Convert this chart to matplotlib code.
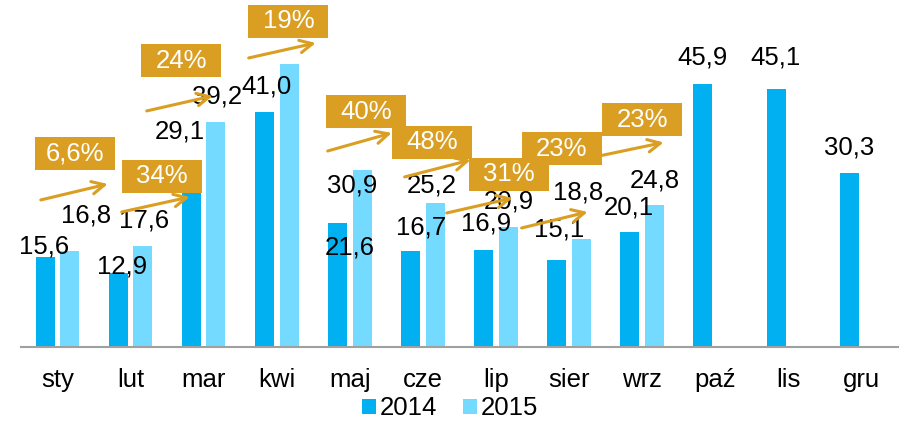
import matplotlib
matplotlib.use("Agg")
import matplotlib.pyplot as plt
from matplotlib.patches import Rectangle
import numpy as np

plt.rcParams['font.family'] = ['Liberation Sans', 'DejaVu Sans']

months = ["sty", "lut", "mar", "kwi", "maj", "cze", "lip", "sier", "wrz", "paź", "lis", "gru"]
v2014 = [15.6, 12.9, 29.1, 41.0, 21.6, 16.7, 16.9, 15.1, 20.1, 45.9, 45.1, 30.3]
v2015 = [16.8, 17.6, 39.2, 49.4, 30.9, 25.2, 20.9, 18.8, 24.8, np.nan, np.nan, np.nan]
show_2015_label = [True, True, True, False, True, True, True, True, True, False, False, False]
growth = ["6,6%", "34%", "24%", "19%", "40%", "48%", "31%", "23%", "23%"]

# layout (annotation positions, data coords)
lab14_pos = [(-0.19, 17.6), (0.88, 14.1), (1.67, 37.7), (2.86, 45.5), (4.0, 17.4), (4.97, 20.9),
             (5.86, 21.6), (6.87, 20.4), (7.82, 24.4), (8.83, 50.5), (9.83, 50.5), (10.83, 34.9)]
lab15_pos = [(0.39, 23.0), (1.18, 22.1), (2.18, 43.7), None, (4.03, 28.1), (5.12, 28.2),
             (6.17, 25.3), (7.13, 26.9), (8.17, 29.1)]
box_pos = [(0.236, 33.8), (1.43, 29.8), (1.69, 50.0), (3.16, 56.9), (4.22, 41.1),
           (5.13, 35.7), (6.18, 30.1), (6.90, 34.6), (8.0, 39.7)]
arrow_pos = [((-0.229, 25.65), (0.688, 28.44)), ((0.879, 23.55), (1.809, 26.17)),
             ((1.221, 41.21), (2.124, 43.83)), ((2.616, 50.47), (3.533, 53.09)),
             ((3.697, 34.21), (4.573, 37.36)), ((4.750, 29.67), (5.653, 32.64)),
             ((5.325, 23.37), (6.228, 25.99)), ((6.351, 20.75), (7.254, 23.55)),
             ((7.446, 33.43), (8.294, 35.70))]

c14 = "#00B0F0"
c15 = "#75DAFF"
gold = "#DA9E22"
fs = 18.5

fig = plt.figure(figsize=(9, 4.21), dpi=100)
ax = fig.add_axes([0.0233, 0.1765, 0.9744, 0.8235])

x = np.arange(len(months))
w = 0.26
off = 0.168
ax.bar(x - off, v2014, width=w, color=c14, label="2014", zorder=2)
ax.bar(x + off, v2015, width=w, color=c15, label="2015", zorder=2)

ax.set_xlim(-0.5, 11.5)
ax.set_ylim(0, 60.6)
ax.set_yticks([])
ax.set_xticks(x)
ax.set_xticklabels(months, fontsize=fs)
ax.tick_params(axis='x', length=0, pad=15)
for s in ["top", "right", "left"]:
    ax.spines[s].set_visible(False)
ax.spines["bottom"].set_color("#A0A0A0")
ax.spines["bottom"].set_linewidth(1.5)

fmt = lambda v: f"{v:.1f}".replace(".", ",")
for v, p in zip(v2014, lab14_pos):
    ax.text(p[0], p[1], fmt(v), ha="center", va="center", fontsize=fs, color="black", zorder=3)
for v, p, s in zip(v2015, lab15_pos, show_2015_label):
    if s and p is not None:
        ax.text(p[0], p[1], fmt(v), ha="center", va="center", fontsize=fs, color="black", zorder=3)

bw, bh = 1.094, 5.75
for g, p in zip(growth, box_pos):
    ax.add_patch(Rectangle((p[0] - bw / 2, p[1] - bh / 2), bw, bh, facecolor=gold,
                           edgecolor="none", zorder=4))
    ax.text(p[0], p[1], g, ha="center", va="center", fontsize=fs, color="white", zorder=5)

for (s, e) in arrow_pos:
    ax.annotate("", xy=e, xytext=s,
                arrowprops=dict(arrowstyle="->,head_length=0.9,head_width=0.45",
                                color=gold, lw=2.2, shrinkA=0, shrinkB=0),
                zorder=6)

leg = fig.legend(loc="center", bbox_to_anchor=(0.5, 0.03), ncol=2, frameon=False,
                 fontsize=fs, handlelength=0.55, handleheight=0.55, handletextpad=0.15,
                 columnspacing=1.0, borderaxespad=0)

fig.savefig("out.png", dpi=100)
